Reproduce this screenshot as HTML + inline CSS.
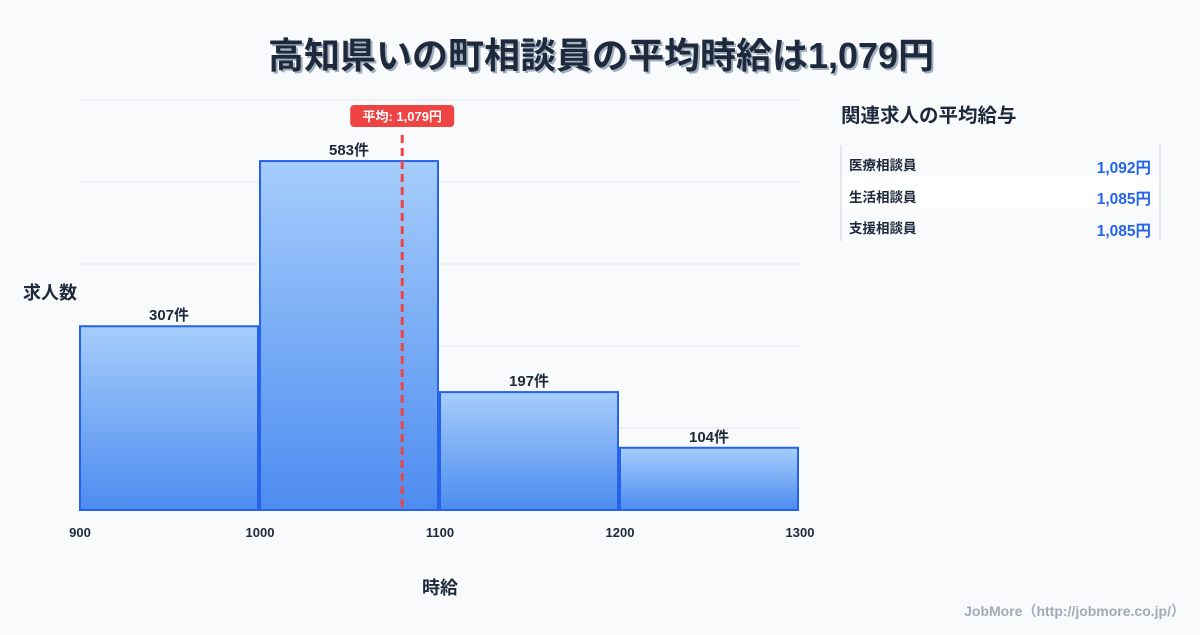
<!DOCTYPE html>
<html><head><meta charset="utf-8">
<style>
body{margin:0;width:1200px;height:630px;background:#f8fafc;font-family:"Liberation Sans","Noto Sans CJK JP",sans-serif;overflow:hidden}
svg text{font-family:"Liberation Sans","Noto Sans CJK JP",sans-serif}
</style></head>
<body>
<svg width="1200" height="630">
<defs>
<linearGradient id="g" x1="0" y1="0" x2="0" y2="1"><stop offset="0" stop-color="#a6cdfb"/><stop offset="1" stop-color="#4d8cf0"/></linearGradient>
</defs>
<text x="603" y="70" text-anchor="middle" font-size="36" font-weight="bold" fill="#a0aec0">高知県いの町相談員の平均時給は1,079円</text>
<text x="601" y="68" text-anchor="middle" font-size="36" font-weight="bold" fill="#1e293b">高知県いの町相談員の平均時給は1,079円</text>
<g id="grid"></g>
<g id="bars"></g>
<g id="xt"></g>
<text x="50" y="299" text-anchor="middle" font-size="18" font-weight="bold" fill="#1e293b">求人数</text>
<text x="440" y="594" text-anchor="middle" font-size="18" font-weight="bold" fill="#1e293b">時給</text>
<g id="avg"></g>
<text x="841" y="122" font-size="19.5" font-weight="bold" fill="#1e293b">関連求人の平均給与</text>
<g>
<line x1="841" y1="145" x2="841" y2="241" stroke="#cbd5e1"/>
<line x1="1160" y1="145" x2="1160" y2="241" stroke="#cbd5e1"/>
<rect x="842" y="177" width="317" height="32" fill="#ffffff"/>
<text x="849" y="170" font-size="13.5" font-weight="bold" fill="#1e293b">医療相談員</text>
<text x="1151" y="173" text-anchor="end" font-size="15.5" font-weight="bold" fill="#2563eb">1,092円</text>
<text x="849" y="202" font-size="13.5" font-weight="bold" fill="#1e293b">生活相談員</text>
<text x="1151" y="204" text-anchor="end" font-size="15.5" font-weight="bold" fill="#2563eb">1,085円</text>
<text x="849" y="233" font-size="13.5" font-weight="bold" fill="#1e293b">支援相談員</text>
<text x="1151" y="236" text-anchor="end" font-size="15.5" font-weight="bold" fill="#2563eb">1,085円</text>
</g>
<text x="1185" y="616" text-anchor="end" font-size="14" font-weight="bold" fill="#a0aab8">JobMore（http://jobmore.co.jp/）</text>
</svg>
<script>
const binStarts=[900,1000,1100,1200];
const counts=[307,583,197,104];
const xTicks=[900,1000,1100,1200,1300];
const avgValue=1079;
const yMax=685;
const NS="http://www.w3.org/2000/svg";
const x=v=>80+(v-900)*720/400;
const y=v=>510-v*410/yMax;
function mk(p,t,a,txt){const e=document.createElementNS(NS,t);for(const k in a)e.setAttribute(k,a[k]);if(txt!==undefined)e.textContent=txt;p.appendChild(e);return e;}
const grid=document.getElementById('grid');
for(let i=0;i<=5;i++){const l=mk(grid,'line',{x1:80,x2:800,y1:y(yMax*i/5),y2:y(yMax*i/5),stroke:'#e2e8f0'});

}
const bars=document.getElementById('bars');
counts.forEach((c,i)=>{const x0=x(binStarts[i]),x1=x(binStarts[i]+100)-2;
const r=mk(bars,'rect',{x:x0,y:y(c),width:x1-x0,height:510-y(c),fill:'url(#g)',stroke:'#2563eb','stroke-width':2});


const t=mk(bars,'text',{x:(x0+x1)/2,y:y(c)-6,'text-anchor':'middle','font-size':15,'font-weight':'bold',fill:'#1e293b'},c+'件');

});
const xt=document.getElementById('xt');
xTicks.forEach(v=>{const t=mk(xt,'text',{x:x(v),y:537,'text-anchor':'middle','font-size':13,'font-weight':'bold',fill:'#1e293b'},v);

});
const avg=document.getElementById('avg');
const ax=x(avgValue);
mk(avg,'line',{x1:ax,x2:ax,y1:135,y2:510,stroke:'#ef4444','stroke-width':3,'stroke-dasharray':'8,5'});
mk(avg,'rect',{x:ax-52,y:105,width:104,height:22,rx:4,fill:'#ef4444'});
mk(avg,'text',{x:ax,y:121,'text-anchor':'middle','font-size':13,'font-weight':'bold',fill:'#fff'},'平均: '+avgValue.toLocaleString('en-US')+'円');
</script>
</body></html>
